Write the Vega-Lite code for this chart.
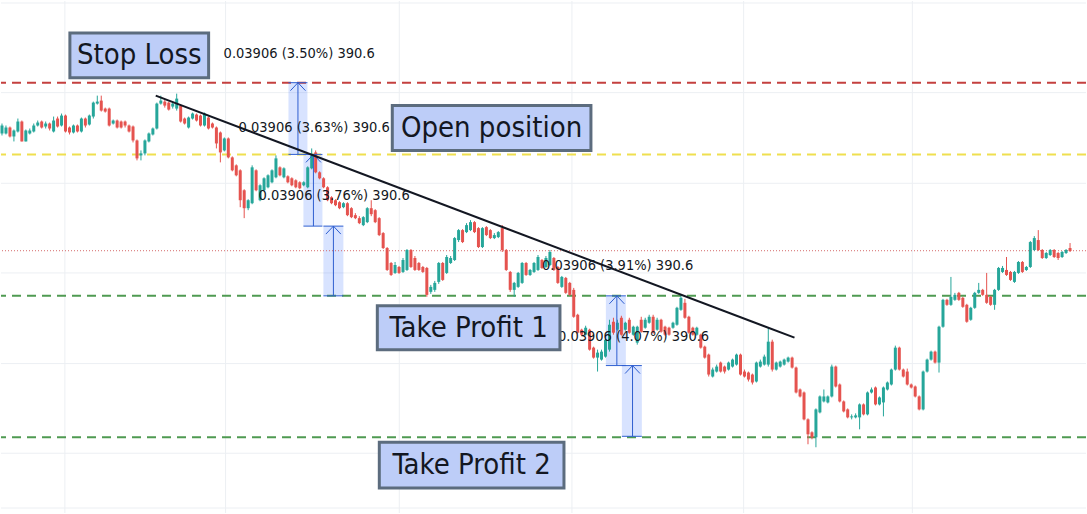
{
  "$schema": "https://vega.github.io/schema/vega-lite/v6.json",
  "width": 1087,
  "height": 514,
  "autosize": {"type": "fit", "contains": "padding"},
  "padding": 0,
  "background": "#ffffff",
  "config": {"view": {"stroke": null}, "scale": {"continuousPadding": 0}},
  "datasets": {
    "candles": [
      {"t":0,"o":467,"h":477,"l":465,"c":475},{"t":1,"o":467,"h":475,"l":466,"c":473},{"t":2,"o":473,"h":474,"l":463,"c":464},{"t":3,"o":464,"h":471,"l":459,"c":470},
      {"t":4,"o":469,"h":482,"l":468,"c":479},{"t":5,"o":479,"h":480,"l":459,"c":459},{"t":6,"o":459,"h":471,"l":459,"c":470},{"t":7,"o":467,"h":472,"l":466,"c":470},
      {"t":8,"o":469,"h":477,"l":468,"c":475},{"t":9,"o":475,"h":480,"l":474,"c":478},{"t":10,"o":479,"h":480,"l":472,"c":473},{"t":11,"o":474,"h":479,"l":472,"c":477},
      {"t":12,"o":477,"h":478,"l":470,"c":472},{"t":13,"o":469,"h":484,"l":468,"c":480},{"t":14,"o":482,"h":484,"l":473,"c":474},{"t":15,"o":475,"h":487,"l":474,"c":485},
      {"t":16,"o":485,"h":486,"l":468,"c":469},{"t":17,"o":473,"h":474,"l":466,"c":468},{"t":18,"o":468,"h":476,"l":467,"c":475},{"t":19,"o":475,"h":476,"l":468,"c":469},
      {"t":20,"o":469,"h":483,"l":468,"c":482},{"t":21,"o":482,"h":483,"l":473,"c":475},{"t":22,"o":476,"h":486,"l":475,"c":485},{"t":23,"o":484,"h":499,"l":482,"c":498},
      {"t":24,"o":497,"h":505,"l":496,"c":499},{"t":25,"o":500,"h":505,"l":489,"c":490},{"t":26,"o":492,"h":493,"l":488,"c":489},{"t":27,"o":492,"h":493,"l":474,"c":475},
      {"t":28,"o":477,"h":481,"l":476,"c":480},{"t":29,"o":480,"h":481,"l":472,"c":473},{"t":30,"o":479,"h":480,"l":472,"c":473},{"t":31,"o":479,"h":480,"l":473,"c":475},
      {"t":32,"o":475,"h":476,"l":468,"c":469},{"t":33,"o":474,"h":475,"l":458,"c":460},{"t":34,"o":460,"h":461,"l":440,"c":442},{"t":35,"o":445,"h":450,"l":440,"c":447},
      {"t":36,"o":447,"h":461,"l":445,"c":460},{"t":37,"o":459,"h":468,"l":458,"c":467},{"t":38,"o":466,"h":473,"l":465,"c":472},{"t":39,"o":472,"h":498,"l":471,"c":497},
      {"t":40,"o":497,"h":505,"l":496,"c":500},{"t":41,"o":499,"h":501,"l":493,"c":495},{"t":42,"o":498,"h":499,"l":490,"c":491},{"t":43,"o":494,"h":499,"l":492,"c":497},
      {"t":44,"o":492,"h":507,"l":490,"c":502},{"t":45,"o":495,"h":496,"l":478,"c":479},{"t":46,"o":482,"h":483,"l":476,"c":477},{"t":47,"o":473,"h":484,"l":472,"c":483},
      {"t":48,"o":482,"h":488,"l":481,"c":487},{"t":49,"o":486,"h":487,"l":479,"c":480},{"t":50,"o":485,"h":486,"l":474,"c":475},{"t":51,"o":475,"h":488,"l":474,"c":487},
      {"t":52,"o":483,"h":484,"l":471,"c":472},{"t":53,"o":477,"h":478,"l":472,"c":473},{"t":54,"o":473,"h":474,"l":452,"c":457},{"t":55,"o":468,"h":469,"l":438,"c":448},
      {"t":56,"o":450,"h":463,"l":449,"c":462},{"t":57,"o":462,"h":463,"l":442,"c":443},{"t":58,"o":443,"h":444,"l":429,"c":430},{"t":59,"o":435,"h":436,"l":424,"c":425},
      {"t":60,"o":430,"h":431,"l":393,"c":400},{"t":61,"o":410,"h":411,"l":382,"c":392},{"t":62,"o":392,"h":401,"l":390,"c":400},{"t":63,"o":397,"h":435,"l":396,"c":433},
      {"t":64,"o":430,"h":431,"l":409,"c":410},{"t":65,"o":400,"h":416,"l":399,"c":415},{"t":66,"o":410,"h":423,"l":409,"c":422},{"t":67,"o":413,"h":426,"l":412,"c":425},
      {"t":68,"o":418,"h":431,"l":417,"c":430},{"t":69,"o":423,"h":445,"l":422,"c":442},{"t":70,"o":433,"h":434,"l":424,"c":425},{"t":71,"o":423,"h":433,"l":422,"c":432},
      {"t":72,"o":424,"h":425,"l":417,"c":418},{"t":73,"o":422,"h":423,"l":414,"c":415},{"t":74,"o":420,"h":421,"l":412,"c":413},{"t":75,"o":418,"h":419,"l":411,"c":412},
      {"t":76,"o":415,"h":419,"l":414,"c":418},{"t":77,"o":413,"h":434,"l":412,"c":433},{"t":78,"o":432,"h":452,"l":431,"c":445},{"t":79,"o":448,"h":450,"l":427,"c":428},
      {"t":80,"o":428,"h":429,"l":421,"c":422},{"t":81,"o":422,"h":423,"l":412,"c":413},{"t":82,"o":413,"h":414,"l":399,"c":400},{"t":83,"o":403,"h":404,"l":396,"c":397},
      {"t":84,"o":400,"h":401,"l":394,"c":395},{"t":85,"o":398,"h":399,"l":391,"c":392},{"t":86,"o":393,"h":398,"l":392,"c":397},{"t":87,"o":397,"h":398,"l":384,"c":385},
      {"t":88,"o":392,"h":393,"l":382,"c":383},{"t":89,"o":385,"h":387,"l":381,"c":382},{"t":90,"o":382,"h":384,"l":376,"c":377},{"t":91,"o":375,"h":384,"l":374,"c":383},
      {"t":92,"o":378,"h":393,"l":377,"c":392},{"t":93,"o":392,"h":400,"l":384,"c":386},{"t":94,"o":390,"h":391,"l":377,"c":378},{"t":95,"o":382,"h":383,"l":364,"c":365},
      {"t":96,"o":367,"h":368,"l":351,"c":352},{"t":97,"o":352,"h":353,"l":329,"c":330},{"t":98,"o":337,"h":338,"l":324,"c":325},{"t":99,"o":327,"h":338,"l":326,"c":335},
      {"t":100,"o":333,"h":334,"l":326,"c":327},{"t":101,"o":328,"h":342,"l":327,"c":340},{"t":102,"o":330,"h":351,"l":329,"c":350},{"t":103,"o":350,"h":351,"l":332,"c":333},
      {"t":104,"o":342,"h":344,"l":329,"c":330},{"t":105,"o":337,"h":338,"l":329,"c":330},{"t":106,"o":333,"h":334,"l":327,"c":328},{"t":107,"o":332,"h":333,"l":303,"c":305},
      {"t":108,"o":308,"h":315,"l":306,"c":313},{"t":109,"o":310,"h":319,"l":308,"c":317},{"t":110,"o":318,"h":338,"l":316,"c":337},{"t":111,"o":337,"h":338,"l":319,"c":320},
      {"t":112,"o":327,"h":345,"l":326,"c":343},{"t":113,"o":337,"h":344,"l":336,"c":342},{"t":114,"o":340,"h":363,"l":339,"c":362},{"t":115,"o":360,"h":371,"l":358,"c":370},
      {"t":116,"o":370,"h":371,"l":357,"c":358},{"t":117,"o":368,"h":377,"l":367,"c":375},{"t":118,"o":370,"h":380,"l":369,"c":378},{"t":119,"o":378,"h":379,"l":367,"c":368},
      {"t":120,"o":372,"h":373,"l":352,"c":353},{"t":121,"o":353,"h":373,"l":352,"c":372},{"t":122,"o":373,"h":374,"l":364,"c":365},{"t":123,"o":370,"h":371,"l":361,"c":362},
      {"t":124,"o":362,"h":367,"l":361,"c":365},{"t":125,"o":363,"h":369,"l":362,"c":368},{"t":126,"o":372,"h":375,"l":348,"c":350},{"t":127,"o":350,"h":351,"l":329,"c":330},
      {"t":128,"o":328,"h":329,"l":308,"c":310},{"t":129,"o":310,"h":318,"l":303,"c":317},{"t":130,"o":313,"h":328,"l":312,"c":327},{"t":131,"o":317,"h":338,"l":316,"c":337},
      {"t":132,"o":337,"h":338,"l":324,"c":325},{"t":133,"o":325,"h":331,"l":324,"c":330},{"t":134,"o":328,"h":338,"l":327,"c":337},{"t":135,"o":330,"h":345,"l":329,"c":343},
      {"t":136,"o":340,"h":341,"l":331,"c":332},{"t":137,"o":333,"h":344,"l":332,"c":342},{"t":138,"o":335,"h":350,"l":334,"c":348},{"t":139,"o":342,"h":343,"l":329,"c":330},
      {"t":140,"o":333,"h":334,"l":316,"c":317},{"t":141,"o":313,"h":324,"l":312,"c":323},{"t":142,"o":322,"h":323,"l":306,"c":307},{"t":143,"o":317,"h":318,"l":304,"c":305},
      {"t":144,"o":310,"h":312,"l":282,"c":283},{"t":145,"o":285,"h":286,"l":266,"c":267},{"t":146,"o":270,"h":271,"l":264,"c":265},{"t":147,"o":265,"h":274,"l":264,"c":272},
      {"t":148,"o":270,"h":271,"l":249,"c":250},{"t":149,"o":252,"h":253,"l":241,"c":242},{"t":150,"o":242,"h":250,"l":228,"c":247},{"t":151,"o":240,"h":250,"l":239,"c":248},
      {"t":152,"o":243,"h":261,"l":242,"c":260},{"t":153,"o":250,"h":280,"l":248,"c":275},{"t":154,"o":278,"h":282,"l":265,"c":267},{"t":155,"o":270,"h":280,"l":269,"c":277},
      {"t":156,"o":282,"h":284,"l":264,"c":265},{"t":157,"o":270,"h":278,"l":269,"c":277},{"t":158,"o":280,"h":282,"l":266,"c":267},{"t":159,"o":265,"h":274,"l":264,"c":273},
      {"t":160,"o":257,"h":274,"l":255,"c":273},{"t":161,"o":280,"h":283,"l":267,"c":268},{"t":162,"o":272,"h":282,"l":271,"c":280},{"t":163,"o":277,"h":285,"l":276,"c":283},
      {"t":164,"o":283,"h":285,"l":266,"c":267},{"t":165,"o":270,"h":282,"l":269,"c":280},{"t":166,"o":280,"h":281,"l":267,"c":268},{"t":167,"o":273,"h":274,"l":264,"c":265},
      {"t":168,"o":272,"h":273,"l":264,"c":265},{"t":169,"o":272,"h":278,"l":271,"c":277},{"t":170,"o":275,"h":293,"l":274,"c":292},{"t":171,"o":290,"h":305,"l":289,"c":302},
      {"t":172,"o":297,"h":301,"l":281,"c":282},{"t":173,"o":283,"h":284,"l":266,"c":267},{"t":174,"o":272,"h":273,"l":264,"c":265},{"t":175,"o":265,"h":273,"l":264,"c":272},
      {"t":176,"o":265,"h":266,"l":251,"c":252},{"t":177,"o":253,"h":254,"l":241,"c":242},{"t":178,"o":245,"h":246,"l":223,"c":225},{"t":179,"o":223,"h":232,"l":222,"c":230},
      {"t":180,"o":228,"h":235,"l":227,"c":233},{"t":181,"o":237,"h":238,"l":227,"c":228},{"t":182,"o":233,"h":234,"l":226,"c":228},{"t":183,"o":230,"h":238,"l":229,"c":237},
      {"t":184,"o":233,"h":241,"l":232,"c":240},{"t":185,"o":235,"h":246,"l":234,"c":245},{"t":186,"o":245,"h":246,"l":224,"c":225},{"t":187,"o":228,"h":230,"l":222,"c":223},
      {"t":188,"o":227,"h":228,"l":218,"c":220},{"t":189,"o":225,"h":226,"l":215,"c":217},{"t":190,"o":218,"h":238,"l":217,"c":237},{"t":191,"o":233,"h":240,"l":232,"c":238},
      {"t":192,"o":235,"h":245,"l":234,"c":243},{"t":193,"o":235,"h":272,"l":233,"c":258},{"t":194,"o":258,"h":260,"l":228,"c":230},{"t":195,"o":230,"h":238,"l":229,"c":237},
      {"t":196,"o":233,"h":239,"l":232,"c":238},{"t":197,"o":235,"h":241,"l":234,"c":240},{"t":198,"o":238,"h":243,"l":237,"c":242},{"t":199,"o":242,"h":243,"l":231,"c":232},
      {"t":200,"o":232,"h":233,"l":206,"c":207},{"t":201,"o":210,"h":211,"l":202,"c":203},{"t":202,"o":207,"h":208,"l":179,"c":180},{"t":203,"o":180,"h":181,"l":155,"c":165},
      {"t":204,"o":167,"h":168,"l":160,"c":162},{"t":205,"o":162,"h":191,"l":152,"c":190},{"t":206,"o":187,"h":204,"l":186,"c":203},{"t":207,"o":198,"h":210,"l":197,"c":203},
      {"t":208,"o":197,"h":204,"l":196,"c":203},{"t":209,"o":203,"h":235,"l":202,"c":233},{"t":210,"o":233,"h":234,"l":212,"c":213},{"t":211,"o":215,"h":216,"l":197,"c":198},
      {"t":212,"o":198,"h":199,"l":187,"c":188},{"t":213,"o":190,"h":191,"l":181,"c":182},{"t":214,"o":182,"h":185,"l":180,"c":183},{"t":215,"o":182,"h":186,"l":181,"c":184},
      {"t":216,"o":182,"h":196,"l":170,"c":195},{"t":217,"o":195,"h":196,"l":184,"c":185},{"t":218,"o":185,"h":208,"l":184,"c":207},{"t":219,"o":207,"h":212,"l":206,"c":210},
      {"t":220,"o":212,"h":213,"l":194,"c":195},{"t":221,"o":195,"h":203,"l":194,"c":202},{"t":222,"o":197,"h":213,"l":183,"c":212},{"t":223,"o":210,"h":218,"l":209,"c":217},
      {"t":224,"o":215,"h":231,"l":214,"c":230},{"t":225,"o":230,"h":254,"l":229,"c":252},{"t":226,"o":252,"h":253,"l":229,"c":230},{"t":227,"o":230,"h":231,"l":222,"c":223},
      {"t":228,"o":228,"h":231,"l":214,"c":215},{"t":229,"o":215,"h":216,"l":211,"c":212},{"t":230,"o":213,"h":214,"l":202,"c":203},{"t":231,"o":203,"h":204,"l":189,"c":190},
      {"t":232,"o":190,"h":229,"l":189,"c":228},{"t":233,"o":228,"h":241,"l":227,"c":240},{"t":234,"o":240,"h":249,"l":239,"c":248},{"t":235,"o":248,"h":249,"l":236,"c":237},
      {"t":236,"o":237,"h":274,"l":227,"c":273},{"t":237,"o":273,"h":301,"l":272,"c":300},{"t":238,"o":300,"h":301,"l":294,"c":295},{"t":239,"o":295,"h":323,"l":294,"c":303},
      {"t":240,"o":300,"h":307,"l":299,"c":305},{"t":241,"o":307,"h":308,"l":299,"c":300},{"t":242,"o":302,"h":303,"l":292,"c":293},{"t":243,"o":295,"h":296,"l":277,"c":278},
      {"t":244,"o":280,"h":293,"l":279,"c":292},{"t":245,"o":292,"h":308,"l":291,"c":307},{"t":246,"o":307,"h":317,"l":306,"c":310},{"t":247,"o":310,"h":311,"l":304,"c":305},
      {"t":248,"o":305,"h":327,"l":296,"c":297},{"t":249,"o":303,"h":304,"l":294,"c":295},{"t":250,"o":295,"h":311,"l":290,"c":310},{"t":251,"o":310,"h":333,"l":309,"c":332},
      {"t":252,"o":328,"h":334,"l":327,"c":332},{"t":253,"o":330,"h":343,"l":324,"c":325},{"t":254,"o":328,"h":329,"l":319,"c":320},{"t":255,"o":318,"h":329,"l":317,"c":328},
      {"t":256,"o":327,"h":339,"l":326,"c":338},{"t":257,"o":338,"h":339,"l":327,"c":328},{"t":258,"o":330,"h":334,"l":329,"c":333},{"t":259,"o":333,"h":359,"l":332,"c":358},
      {"t":260,"o":350,"h":364,"l":349,"c":362},{"t":261,"o":360,"h":370,"l":349,"c":350},{"t":262,"o":350,"h":351,"l":341,"c":342},{"t":263,"o":342,"h":348,"l":341,"c":347},
      {"t":264,"o":345,"h":351,"l":344,"c":350},{"t":265,"o":350,"h":351,"l":342,"c":343},{"t":266,"o":347,"h":348,"l":340,"c":342},{"t":267,"o":343,"h":349,"l":342,"c":348},
      {"t":268,"o":347,"h":351,"l":346,"c":350},{"t":269,"o":352,"h":357,"l":348,"c":349}
    ],
    "hgrid": [{"v":598},{"v":508},{"v":417},{"v":327},{"v":236},{"v":146},{"v":91}],
    "vgrid": [{"t":15.84},{"t":56.31},{"t":100.06},{"t":143.55},{"t":186.79},{"t":229.28}],
    "levels": [
      {"level":"Stop Loss","v":518},
      {"level":"Open position","v":446},
      {"level":"Take Profit 1","v":304},
      {"level":"Take Profit 2","v":162}
    ],
    "lastprice": [{"v":349.3}],
    "trend": [{"t":38.72,"v":505,"t2":199.6,"v2":262}],
    "ranges": [
      {"t":72.15,"t2":76.93,"v":518,"v2":446},
      {"t":75.92,"t2":80.70,"v":446,"v2":374},
      {"t":80.95,"t2":85.98,"v":374,"v2":304},
      {"t":152.10,"t2":157.13,"v":304,"v2":234},
      {"t":156.12,"t2":161.15,"v":234,"v2":163}
    ],
    "segments": [
      {"t":74.54,"t2":74.54,"v":446,"v2":518},{"t":72.15,"t2":76.93,"v":518,"v2":518},{"t":72.15,"t2":76.93,"v":446,"v2":446},{"t":74.54,"t2":72.65,"v":518,"v2":510},{"t":74.54,"t2":76.43,"v":518,"v2":510},
      {"t":78.44,"t2":78.44,"v":374,"v2":446},{"t":75.92,"t2":80.70,"v":446,"v2":446},{"t":75.92,"t2":80.70,"v":374,"v2":374},{"t":78.44,"t2":76.55,"v":446,"v2":438},{"t":78.44,"t2":80.32,"v":446,"v2":438},
      {"t":83.47,"t2":83.47,"v":304,"v2":374},{"t":80.95,"t2":85.98,"v":374,"v2":374},{"t":80.95,"t2":85.98,"v":304,"v2":304},{"t":83.47,"t2":81.58,"v":374,"v2":366},{"t":83.47,"t2":85.35,"v":374,"v2":366},
      {"t":154.86,"t2":154.86,"v":234,"v2":304},{"t":152.10,"t2":157.13,"v":304,"v2":304},{"t":152.10,"t2":157.13,"v":234,"v2":234},{"t":154.86,"t2":152.98,"v":304,"v2":296},{"t":154.86,"t2":156.75,"v":304,"v2":296},
      {"t":158.81,"t2":158.81,"v":163,"v2":234},{"t":156.12,"t2":161.15,"v":234,"v2":234},{"t":156.12,"t2":161.15,"v":163,"v2":163},{"t":158.81,"t2":156.93,"v":234,"v2":226},{"t":158.81,"t2":160.70,"v":234,"v2":226}
    ],
    "measures": [
      {"txt":"0.03906 (3.50%) 390.6","t":55.81,"v":547},
      {"txt":"0.03906 (3.63%) 390.6","t":59.58,"v":473},
      {"txt":"0.03906 (3.76%) 390.6","t":64.61,"v":404},
      {"txt":"0.03906 (3.91%) 390.6","t":136.01,"v":334},
      {"txt":"0.03906 (4.07%) 390.6","t":140.03,"v":263}
    ],
    "boxes": [
      {"label":"Stop Loss","t":17.1,"t2":52.04,"v":568,"v2":523,"tc":34.57,"vc":545.5},
      {"label":"Open position","t":98.3,"t2":148.33,"v":495,"v2":450,"tc":123.3,"vc":472.5},
      {"label":"Take Profit 1","t":94.53,"t2":140.53,"v":294,"v2":250,"tc":117.53,"vc":272},
      {"label":"Take Profit 2","t":95.03,"t2":141.54,"v":157,"v2":111,"tc":118.28,"vc":134}
    ]
  },
  "layer": [
    {
      "data": {"name": "hgrid"},
      "mark": {"type": "rule", "color": "#eceff3", "strokeWidth": 1},
      "encoding": {
        "y": {"field": "v", "type": "quantitative", "scale": {"domain": [86, 600], "nice": false, "zero": false, "padding": 0}, "axis": null}
      }
    },
    {
      "data": {"name": "vgrid"},
      "mark": {"type": "rule", "color": "#eceff3", "strokeWidth": 1},
      "encoding": {
        "x": {"field": "t", "type": "quantitative", "scale": {"domain": [-0.2514, 273.02], "nice": false, "zero": false, "padding": 0}, "axis": null}
      }
    },
    {
      "data": {"name": "ranges"},
      "mark": {"type": "rect", "color": "#2962ff", "opacity": 0.18},
      "encoding": {
        "x": {"field": "t", "type": "quantitative", "scale": {"domain": [-0.2514, 273.02], "nice": false, "zero": false, "padding": 0}, "axis": null},
        "x2": {"field": "t2"},
        "y": {"field": "v", "type": "quantitative", "scale": {"domain": [86, 600], "nice": false, "zero": false, "padding": 0}, "axis": null},
        "y2": {"field": "v2"}
      }
    },
    {
      "data": {"name": "levels"},
      "mark": {"type": "rule", "strokeWidth": 2, "strokeDash": [9, 6]},
      "encoding": {
        "y": {"field": "v", "type": "quantitative", "scale": {"domain": [86, 600], "nice": false, "zero": false, "padding": 0}, "axis": null},
        "color": {
          "field": "level", "type": "nominal", "legend": null,
          "scale": {"domain": ["Stop Loss", "Open position", "Take Profit 1", "Take Profit 2"], "range": ["#c4403f", "#efdf4f", "#4f9a52", "#4f9a52"]}
        }
      }
    },
    {
      "data": {"name": "lastprice"},
      "mark": {"type": "rule", "color": "#d46a6a", "strokeWidth": 1, "strokeDash": [1, 2]},
      "encoding": {
        "y": {"field": "v", "type": "quantitative", "scale": {"domain": [86, 600], "nice": false, "zero": false, "padding": 0}, "axis": null}
      }
    },
    {
      "data": {"name": "candles"},
      "mark": {"type": "rule", "strokeWidth": 1},
      "encoding": {
        "x": {"field": "t", "type": "quantitative", "scale": {"domain": [-0.2514, 273.02], "nice": false, "zero": false, "padding": 0}, "axis": null},
        "y": {"field": "l", "type": "quantitative", "scale": {"domain": [86, 600], "nice": false, "zero": false, "padding": 0}, "axis": null},
        "y2": {"field": "h"},
        "color": {"condition": {"test": "datum.c >= datum.o", "value": "#26a69a"}, "value": "#e5534f"}
      }
    },
    {
      "data": {"name": "candles"},
      "mark": {"type": "bar", "size": 3},
      "encoding": {
        "x": {"field": "t", "type": "quantitative", "scale": {"domain": [-0.2514, 273.02], "nice": false, "zero": false, "padding": 0}, "axis": null},
        "y": {"field": "o", "type": "quantitative", "scale": {"domain": [86, 600], "nice": false, "zero": false, "padding": 0}, "axis": null},
        "y2": {"field": "c"},
        "color": {"condition": {"test": "datum.c >= datum.o", "value": "#26a69a"}, "value": "#e5534f"}
      }
    },
    {
      "data": {"name": "segments"},
      "mark": {"type": "rule", "color": "#2f5fd0", "strokeWidth": 1},
      "encoding": {
        "x": {"field": "t", "type": "quantitative", "scale": {"domain": [-0.2514, 273.02], "nice": false, "zero": false, "padding": 0}, "axis": null},
        "x2": {"field": "t2"},
        "y": {"field": "v", "type": "quantitative", "scale": {"domain": [86, 600], "nice": false, "zero": false, "padding": 0}, "axis": null},
        "y2": {"field": "v2"}
      }
    },
    {
      "data": {"name": "trend"},
      "mark": {"type": "rule", "color": "#131722", "strokeWidth": 2},
      "encoding": {
        "x": {"field": "t", "type": "quantitative", "scale": {"domain": [-0.2514, 273.02], "nice": false, "zero": false, "padding": 0}, "axis": null},
        "x2": {"field": "t2"},
        "y": {"field": "v", "type": "quantitative", "scale": {"domain": [86, 600], "nice": false, "zero": false, "padding": 0}, "axis": null},
        "y2": {"field": "v2"}
      }
    },
    {
      "data": {"name": "measures"},
      "mark": {"type": "text", "align": "left", "baseline": "middle", "font": "DejaVu Sans Condensed", "fontSize": 14.5, "color": "#131722"},
      "encoding": {
        "x": {"field": "t", "type": "quantitative", "scale": {"domain": [-0.2514, 273.02], "nice": false, "zero": false, "padding": 0}, "axis": null},
        "y": {"field": "v", "type": "quantitative", "scale": {"domain": [86, 600], "nice": false, "zero": false, "padding": 0}, "axis": null},
        "text": {"field": "txt"}
      }
    },
    {
      "data": {"name": "boxes"},
      "mark": {"type": "rect", "fill": "#bdcdf8", "stroke": "#5c6c7e", "strokeWidth": 3},
      "encoding": {
        "x": {"field": "t", "type": "quantitative", "scale": {"domain": [-0.2514, 273.02], "nice": false, "zero": false, "padding": 0}, "axis": null},
        "x2": {"field": "t2"},
        "y": {"field": "v", "type": "quantitative", "scale": {"domain": [86, 600], "nice": false, "zero": false, "padding": 0}, "axis": null},
        "y2": {"field": "v2"}
      }
    },
    {
      "data": {"name": "boxes"},
      "mark": {"type": "text", "align": "center", "baseline": "middle", "font": "DejaVu Sans Condensed", "fontSize": 29, "color": "#131722"},
      "encoding": {
        "x": {"field": "tc", "type": "quantitative", "scale": {"domain": [-0.2514, 273.02], "nice": false, "zero": false, "padding": 0}, "axis": null},
        "y": {"field": "vc", "type": "quantitative", "scale": {"domain": [86, 600], "nice": false, "zero": false, "padding": 0}, "axis": null},
        "text": {"field": "label"}
      }
    }
  ]
}
